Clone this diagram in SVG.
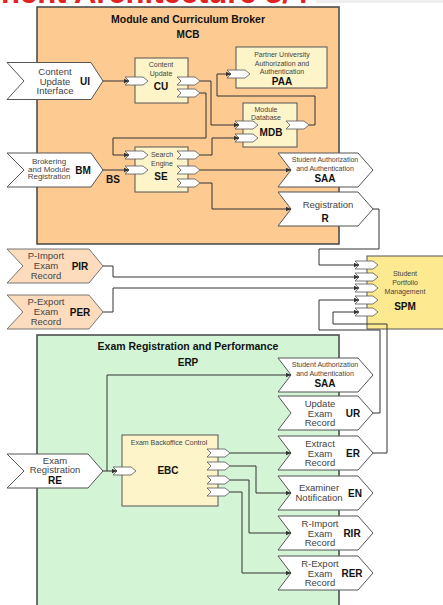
<svg xmlns="http://www.w3.org/2000/svg" width="443" height="605" viewBox="0 0 443 605">
<defs>
<marker id="ah" markerUnits="userSpaceOnUse" markerWidth="6" markerHeight="5" refX="5" refY="2.2" orient="auto"><path d="M0,0 L5,2.2 L0,4.4 z" fill="#333"/></marker>
<style>
.box{stroke:#444;stroke-width:1.5}
.comp{fill:#fdf4c9;stroke:#555;stroke-width:1}
.pent{fill:#fff;stroke:#555;stroke-width:1}
.pp{fill:#fcdcbd;stroke:#777;stroke-width:1}
.port{fill:#fff;stroke:#555;stroke-width:0.8}
.t{font-family:"Liberation Sans",Arial,sans-serif;fill:#444;text-anchor:middle}
.s7{font-size:7px}
.s9{font-size:9.5px}
.s8{font-size:8px}
.b{font-weight:bold;fill:#111;font-size:10px}
.c{fill:none;stroke:#333;stroke-width:1;marker-end:url(#ah)}
</style>
</defs>
<rect x="0" y="0" width="443" height="605" fill="#fff"/>
<rect x="316" y="0" width="127" height="3" fill="#eeeeee"/>
<text x="1" y="3" font-family="Liberation Sans,Arial,sans-serif" font-weight="bold" font-size="31" fill="#e02222">nent Architecture 3/4</text>

<g id="MCB">
<rect class="box" x="37" y="7" width="302" height="237" fill="#fdca92"/>
<text class="t b" x="188" y="23" style="font-size:10.5px">Module and Curriculum Broker</text>
<text class="t b" x="188" y="38">MCB</text>
</g>
<g id="ERP">
<rect class="box" x="37" y="335" width="302" height="280" fill="#d3f5d5"/>
<text class="t b" x="188" y="350" style="font-size:10.5px">Exam Registration and Performance</text>
<text class="t b" x="188" y="366">ERP</text>
</g>

<g id="CU">
<rect class="comp" x="135" y="58" width="53" height="45"/>
<text class="t s7" x="161" y="67">Content</text>
<text class="t s7" x="161" y="76">Update</text>
<text class="t b" x="161" y="90">CU</text>
<path class="port" d="M125,77 H143 L148,81 L143,85 H125 L129,81 Z"/>
<path class="port" d="M177,77 H195 L200,81 L195,85 H177 L181,81 Z"/>
<path class="port" d="M177,89 H195 L200,93 L195,97 H177 L181,93 Z"/>
</g>
<g id="SE">
<rect class="comp" x="135" y="147" width="53" height="45"/>
<text class="t s7" x="162" y="156.5">Search</text>
<text class="t s7" x="162" y="165.5">Engine</text>
<text class="t b" x="161" y="180">SE</text>
<path class="port" d="M125,151 H143 L148,155 L143,159 H125 L129,155 Z"/>
<path class="port" d="M125,166 H143 L148,170 L143,174 H125 L129,170 Z"/>
<path class="port" d="M177,151 H195 L200,155 L195,159 H177 L181,155 Z"/>
<path class="port" d="M177,166 H195 L200,170 L195,174 H177 L181,170 Z"/>
<path class="port" d="M177,179 H195 L200,183 L195,187 H177 L181,183 Z"/>
</g>
<g id="PAA">
<rect class="comp" x="236" y="47" width="91" height="41"/>
<text class="t s7" x="282" y="56.5">Partner University</text>
<text class="t s7" x="282" y="65.5">Authorization and</text>
<text class="t s7" x="282" y="73.5">Authentication</text>
<text class="t b" x="282" y="85">PAA</text>
<path class="port" d="M227,70 H245 L250,74 L245,78 H227 L231,74 Z"/>
</g>
<g id="MDB">
<rect class="comp" x="243" y="103" width="54" height="44"/>
<text class="t s7" x="266" y="111.5">Module</text>
<text class="t s7" x="266" y="119.5">Database</text>
<text class="t b" x="271" y="136">MDB</text>
<path class="port" d="M235,121 H253 L258,125 L253,129 H235 L239,125 Z"/>
<path class="port" d="M235,134 H253 L258,138 L253,142 H235 L239,138 Z"/>
<path class="port" d="M286,121 H304 L309,125 L304,129 H286 L290,125 Z"/>
</g>
<g id="UI">
<path class="pent" d="M7,62.5 H91 L103,81 L91,99.5 H7 L24,81 Z"/>
<text class="t s9" x="55" y="75">Content</text>
<text class="t s9" x="55" y="84.5">Update</text>
<text class="t s9" x="55" y="94">Interface</text>
<text class="t b" x="85" y="84.5">UI</text>
</g>
<g id="BM">
<path class="pent" d="M7,153 H91 L103,170 L91,187 H7 L24,170 Z"/>
<text class="t s8" x="49" y="164">Brokering</text>
<text class="t s8" x="49" y="171.5">and Module</text>
<text class="t s8" x="49" y="179">Registration</text>
<text class="t b" x="83" y="173.5">BM</text>
</g>
<text class="t b" x="113" y="183">BS</text>
<g id="SAA1">
<path class="pent" d="M278,153 H358 L373,170 L358,187 H278 L291,170 Z"/>
<text class="t s7" x="325" y="161.5">Student Authorization</text>
<text class="t s7" x="325" y="170.5">and Authentication</text>
<text class="t b" x="325" y="182">SAA</text>
</g>
<g id="R">
<path class="pent" d="M278,192 H358 L373,209 L358,226 H278 L291,209 Z"/>
<text class="t s9" x="328" y="207.5">Registration</text>
<text class="t b" x="325" y="222">R</text>
</g>
<g id="PIR">
<path class="pp" d="M7,249 H89 L103,266 L89,283 H7 L23,266 Z"/>
<text class="t s9" x="46" y="259">P-Import</text>
<text class="t s9" x="46" y="269">Exam</text>
<text class="t s9" x="46" y="278.5">Record</text>
<text class="t b" x="80" y="269.5">PIR</text>
</g>
<g id="PER">
<path class="pp" d="M7,295 H89 L103,312 L89,329 H7 L23,312 Z"/>
<text class="t s9" x="46" y="305">P-Export</text>
<text class="t s9" x="46" y="315">Exam</text>
<text class="t s9" x="46" y="324.5">Record</text>
<text class="t b" x="80" y="315.5">PER</text>
</g>
<g id="SPM">
<rect x="367" y="256" width="90" height="73" fill="#fde98f" stroke="#555" stroke-width="1"/>
<text class="t s7" x="405" y="275.5">Student</text>
<text class="t s7" x="405" y="284.5">Portfolio</text>
<text class="t s7" x="405" y="293.5">Management</text>
<text class="t b" x="405" y="310">SPM</text>
<path class="port" d="M355,261 H373 L378,265 L373,269 H355 L359,265 Z"/>
<path class="port" d="M355,273 H373 L378,277 L373,281 H355 L359,277 Z"/>
<path class="port" d="M355,284 H373 L378,288 L373,292 H355 L359,288 Z"/>
<path class="port" d="M355,296 H373 L378,300 L373,304 H355 L359,300 Z"/>
<path class="port" d="M355,308 H373 L378,312 L373,316 H355 L359,312 Z"/>
</g>
<g id="SAA2">
<path class="pent" d="M278,358 H358 L373,375 L358,392 H278 L291,375 Z"/>
<text class="t s7" x="325" y="366.5">Student Authorization</text>
<text class="t s7" x="325" y="375.5">and Authentication</text>
<text class="t b" x="325" y="387">SAA</text>
</g>
<g id="UR">
<path class="pent" d="M278,396 H358 L373,413 L358,430 H278 L291,413 Z"/>
<text class="t s9" x="320" y="407">Update</text>
<text class="t s9" x="320" y="416.5">Exam</text>
<text class="t s9" x="320" y="426">Record</text>
<text class="t b" x="353" y="416.5">UR</text>
</g>
<g id="ER">
<path class="pent" d="M278,436 H358 L373,453 L358,470 H278 L291,453 Z"/>
<text class="t s9" x="320" y="446.5">Extract</text>
<text class="t s9" x="320" y="456.5">Exam</text>
<text class="t s9" x="320" y="466">Record</text>
<text class="t b" x="353" y="456.5">ER</text>
</g>
<g id="EN">
<path class="pent" d="M278,476 H358 L373,493 L358,510 H278 L291,493 Z"/>
<text class="t s9" x="319" y="490.5">Examiner</text>
<text class="t s9" x="319" y="500.5">Notification</text>
<text class="t b" x="355" y="496.5">EN</text>
</g>
<g id="RIR">
<path class="pent" d="M278,516 H358 L373,533 L358,550 H278 L291,533 Z"/>
<text class="t s9" x="320" y="526.5">R-Import</text>
<text class="t s9" x="320" y="536.5">Exam</text>
<text class="t s9" x="320" y="546">Record</text>
<text class="t b" x="352" y="536.5">RIR</text>
</g>
<g id="RER">
<path class="pent" d="M278,556 H358 L373,573 L358,590 H278 L291,573 Z"/>
<text class="t s9" x="320" y="566.5">R-Export</text>
<text class="t s9" x="320" y="576.5">Exam</text>
<text class="t s9" x="320" y="586">Record</text>
<text class="t b" x="352" y="576.5">RER</text>
</g>
<g id="RE">
<path class="pent" d="M7,454 H88 L103,471 L88,488 H7 L24,471 Z"/>
<text class="t s9" x="55" y="463.5">Exam</text>
<text class="t s9" x="55" y="473">Registration</text>
<text class="t b" x="55" y="484">RE</text>
</g>
<g id="EBC">
<rect class="comp" x="122" y="435" width="96" height="71"/>
<text class="t s7" x="169" y="444.5">Exam Backoffice Control</text>
<text class="t b" x="168" y="474">EBC</text>
<path class="port" d="M113,467 H131 L136,471 L131,475 H113 L117,471 Z"/>
<path class="port" d="M207,449 H225 L230,453 L225,457 H207 L211,453 Z"/>
<path class="port" d="M207,462 H225 L230,466 L225,470 H207 L211,466 Z"/>
<path class="port" d="M207,476 H225 L230,480 L225,484 H207 L211,480 Z"/>
<path class="port" d="M207,488 H225 L230,492 L225,496 H207 L211,492 Z"/>
</g>

<g id="connectors">
<path class="c" d="M103,81 H129"/>
<path class="c" d="M200,81 H211 V125 H239"/>
<path class="c" d="M200,93 H206 V138 H113 V155 H129"/>
<path class="c" d="M200,155 H212 V138 H239"/>
<path class="c" d="M309,125 H315 V96 H217 V74 H231"/>
<path class="c" d="M103,170 H129"/>
<path class="c" d="M200,170 H291"/>
<path class="c" d="M200,183 H212 V209 H291"/>
<path class="c" d="M373,209 H379 V249 H319 V265 H359"/>
<path class="c" d="M103,266 H113 V277 H359"/>
<path class="c" d="M103,312 H113 V288 H359"/>
<path class="c" d="M373,413 H380 V330 H319 V300 H359"/>
<path class="c" d="M373,453 H387 V324 H333 V312 H359"/>
<path class="c" d="M103,471 H117"/>
<path class="c" d="M107,471 V375 H291"/>
<path class="c" d="M230,453 H291"/>
<path class="c" d="M230,466 H256 V493 H291"/>
<path class="c" d="M230,480 H249 V533 H291"/>
<path class="c" d="M230,492 H242 V573 H291"/>
</g>
</svg>
